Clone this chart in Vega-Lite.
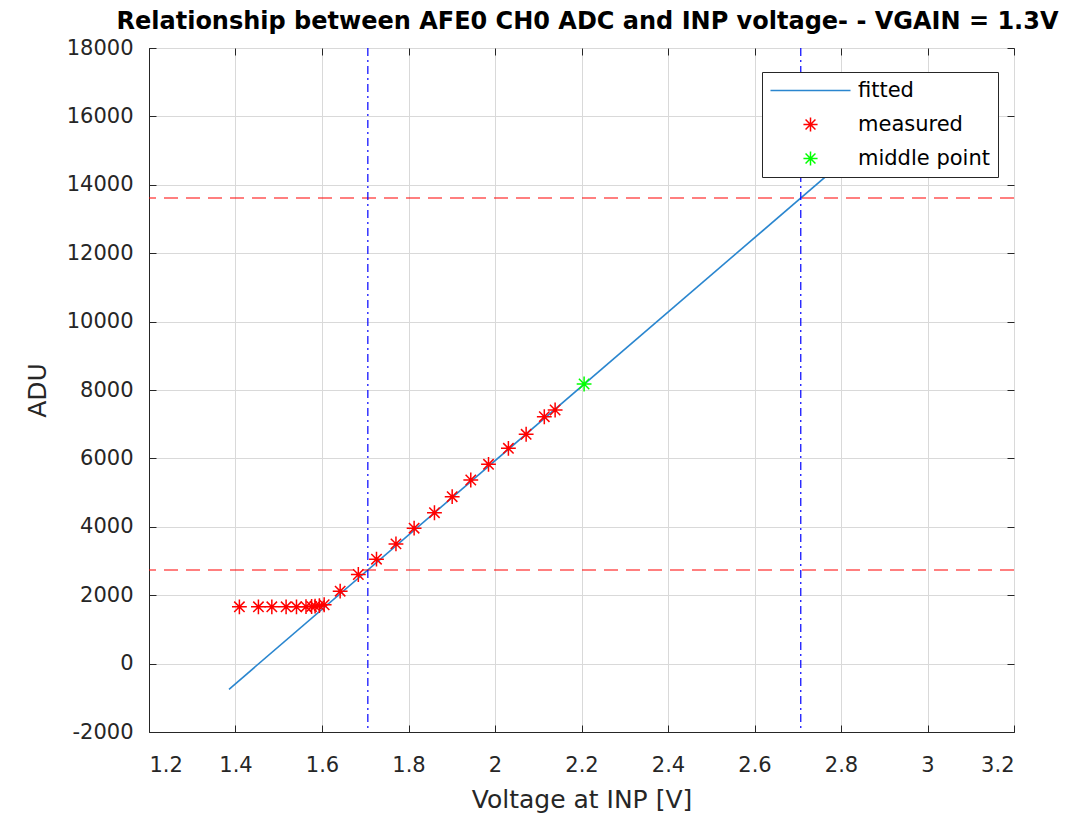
{
  "$schema": "https://vega.github.io/schema/vega-lite/v6.json",
  "width": 865,
  "height": 684,
  "autosize": "none",
  "padding": {"left": 149, "top": 48, "right": 75, "bottom": 87},
  "background": "white",
  "title": {
    "text": "Relationship between AFE0 CH0 ADC and INP voltage- - VGAIN = 1.3V",
    "font": "DejaVu Sans",
    "fontSize": 24,
    "fontWeight": "bold",
    "color": "#000000",
    "anchor": "middle",
    "offset": 3,
    "dx": 6
  },
  "config": {
    "view": {"stroke": "#262626", "strokeWidth": 1},
    "axis": {
      "labelFont": "DejaVu Sans",
      "labelFontSize": 21,
      "labelColor": "#262626",
      "titleFont": "DejaVu Sans",
      "titleFontSize": 25,
      "titleFontWeight": "normal",
      "titleColor": "#262626",
      "gridColor": "#d9d9d9",
      "gridOpacity": 1,
      "domainColor": "#262626",
      "ticks": true,
      "tickSize": -7,
      "tickColor": "#262626",
      "labelExpr": "toString(datum.value)"
    },
    "axisX": {"labelPadding": 29, "titlePadding": 12},
    "axisY": {"labelPadding": 23, "titlePadding": 16}
  },
  "resolve": {"axis": {"x": "independent", "y": "independent"}},
  "datasets": {
    "pts": [
      {"v": 1.409, "adu": 1660, "series": "measured"},
      {"v": 1.453, "adu": 1660, "series": "measured"},
      {"v": 1.484, "adu": 1660, "series": "measured"},
      {"v": 1.517, "adu": 1660, "series": "measured"},
      {"v": 1.541, "adu": 1660, "series": "measured"},
      {"v": 1.563, "adu": 1665, "series": "measured"},
      {"v": 1.576, "adu": 1670, "series": "measured"},
      {"v": 1.584, "adu": 1680, "series": "measured"},
      {"v": 1.594, "adu": 1695, "series": "measured"},
      {"v": 1.605, "adu": 1720, "series": "measured"},
      {"v": 1.642, "adu": 2117, "series": "measured"},
      {"v": 1.684, "adu": 2605, "series": "measured"},
      {"v": 1.726, "adu": 3053, "series": "measured"},
      {"v": 1.771, "adu": 3500, "series": "measured"},
      {"v": 1.813, "adu": 3960, "series": "measured"},
      {"v": 1.860, "adu": 4412, "series": "measured"},
      {"v": 1.901, "adu": 4880, "series": "measured"},
      {"v": 1.944, "adu": 5368, "series": "measured"},
      {"v": 1.985, "adu": 5827, "series": "measured"},
      {"v": 2.031, "adu": 6295, "series": "measured"},
      {"v": 2.072, "adu": 6705, "series": "measured"},
      {"v": 2.114, "adu": 7219, "series": "measured"},
      {"v": 2.139, "adu": 7415, "series": "measured"},
      {"v": 2.206, "adu": 8175, "series": "middle point"}
    ],
    "fit": [
      {"v": 1.385, "adu": -751, "series": "fitted"},
      {"v": 2.95, "adu": 16254, "series": "fitted"}
    ],
    "hlines": [{"adu": 2737}, {"adu": 13614}],
    "vlines": [{"v": 1.706}, {"v": 2.707}]
  },
  "layer": [
    {
      "data": {"name": "fit"},
      "mark": {"type": "line", "strokeWidth": 1.6},
      "encoding": {
        "x": {"field": "v", "type": "quantitative", "title": "Voltage at INP [V]", "scale": {"domain": [1.2, 3.2], "nice": false, "zero": false},
              "axis": {"values": [1.2, 1.4, 1.6, 1.8, 2, 2.2, 2.4, 2.6, 2.8, 3, 3.2]}},
        "y": {"field": "adu", "type": "quantitative", "title": "ADU", "scale": {"domain": [-2000, 18000], "nice": false, "zero": false},
              "axis": {"values": [-2000, 0, 2000, 4000, 6000, 8000, 10000, 12000, 14000, 16000, 18000]}},
        "color": {
          "field": "series", "type": "nominal",
          "scale": {"domain": ["fitted", "measured", "middle point"], "range": ["#2a86cf", "#ff0000", "#00ff00"]},
          "legend": {"title": null, "orient": "none", "legendX": 613, "legendY": 24, "padding": 8, "strokeColor": "#262626", "fillColor": "#ffffff", "labelFont": "DejaVu Sans", "labelFontSize": 21, "labelColor": "#000000", "symbolStrokeWidth": 1.5, "symbolSize": 200, "rowPadding": 12, "symbolOffset": 30, "labelOffset": 37, "cornerRadius": 0}
        }
      }
    },
    {
      "data": {"name": "pts"},
      "mark": {"type": "point", "filled": false, "size": 220, "strokeWidth": 1.5, "opacity": 1},
      "encoding": {
        "x": {"field": "v", "type": "quantitative", "title": "Voltage at INP [V]", "axis": null},
        "y": {"field": "adu", "type": "quantitative", "title": "ADU", "axis": null},
        "color": {
          "field": "series", "type": "nominal",
          "legend": {"title": null, "orient": "none", "legendX": 613, "legendY": 24, "padding": 8, "strokeColor": "#262626", "fillColor": "#ffffff", "labelFont": "DejaVu Sans", "labelFontSize": 21, "labelColor": "#000000", "symbolStrokeWidth": 1.5, "symbolSize": 200, "rowPadding": 12, "symbolOffset": 30, "labelOffset": 37, "cornerRadius": 0}
        },
        "shape": {
          "field": "series", "type": "nominal",
          "scale": {"domain": ["fitted", "measured", "middle point"], "range": ["M-5.66,0L5.66,0", "M0,-1L0,1M-1,0L1,0M-0.7,-0.7L0.7,0.7M-0.7,0.7L0.7,-0.7", "M0,-1L0,1M-1,0L1,0M-0.7,-0.7L0.7,0.7M-0.7,0.7L0.7,-0.7"]},
          "legend": {"title": null, "orient": "none", "legendX": 613, "legendY": 24, "padding": 8, "strokeColor": "#262626", "fillColor": "#ffffff", "labelFont": "DejaVu Sans", "labelFontSize": 21, "labelColor": "#000000", "symbolStrokeWidth": 1.5, "symbolSize": 200, "rowPadding": 12, "symbolOffset": 30, "labelOffset": 37, "cornerRadius": 0}
        }
      }
    },
    {
      "data": {"name": "hlines"},
      "mark": {"type": "rule", "color": "#ff0000", "strokeDash": [14, 8], "strokeWidth": 1.2},
      "encoding": {
        "y": {"field": "adu", "type": "quantitative", "title": "ADU",
              "axis": {"orient": "right", "labels": false, "grid": false, "domain": false, "title": null, "values": [-2000, 0, 2000, 4000, 6000, 8000, 10000, 12000, 14000, 16000, 18000]}}
      }
    },
    {
      "data": {"name": "vlines"},
      "mark": {"type": "rule", "color": "#0000ff", "strokeDash": [8, 4, 2, 4], "strokeWidth": 1.2},
      "encoding": {
        "x": {"field": "v", "type": "quantitative", "title": "Voltage at INP [V]",
              "axis": {"orient": "top", "labels": false, "grid": false, "domain": false, "title": null, "values": [1.2, 1.4, 1.6, 1.8, 2, 2.2, 2.4, 2.6, 2.8, 3, 3.2]}}
      }
    }
  ]
}
